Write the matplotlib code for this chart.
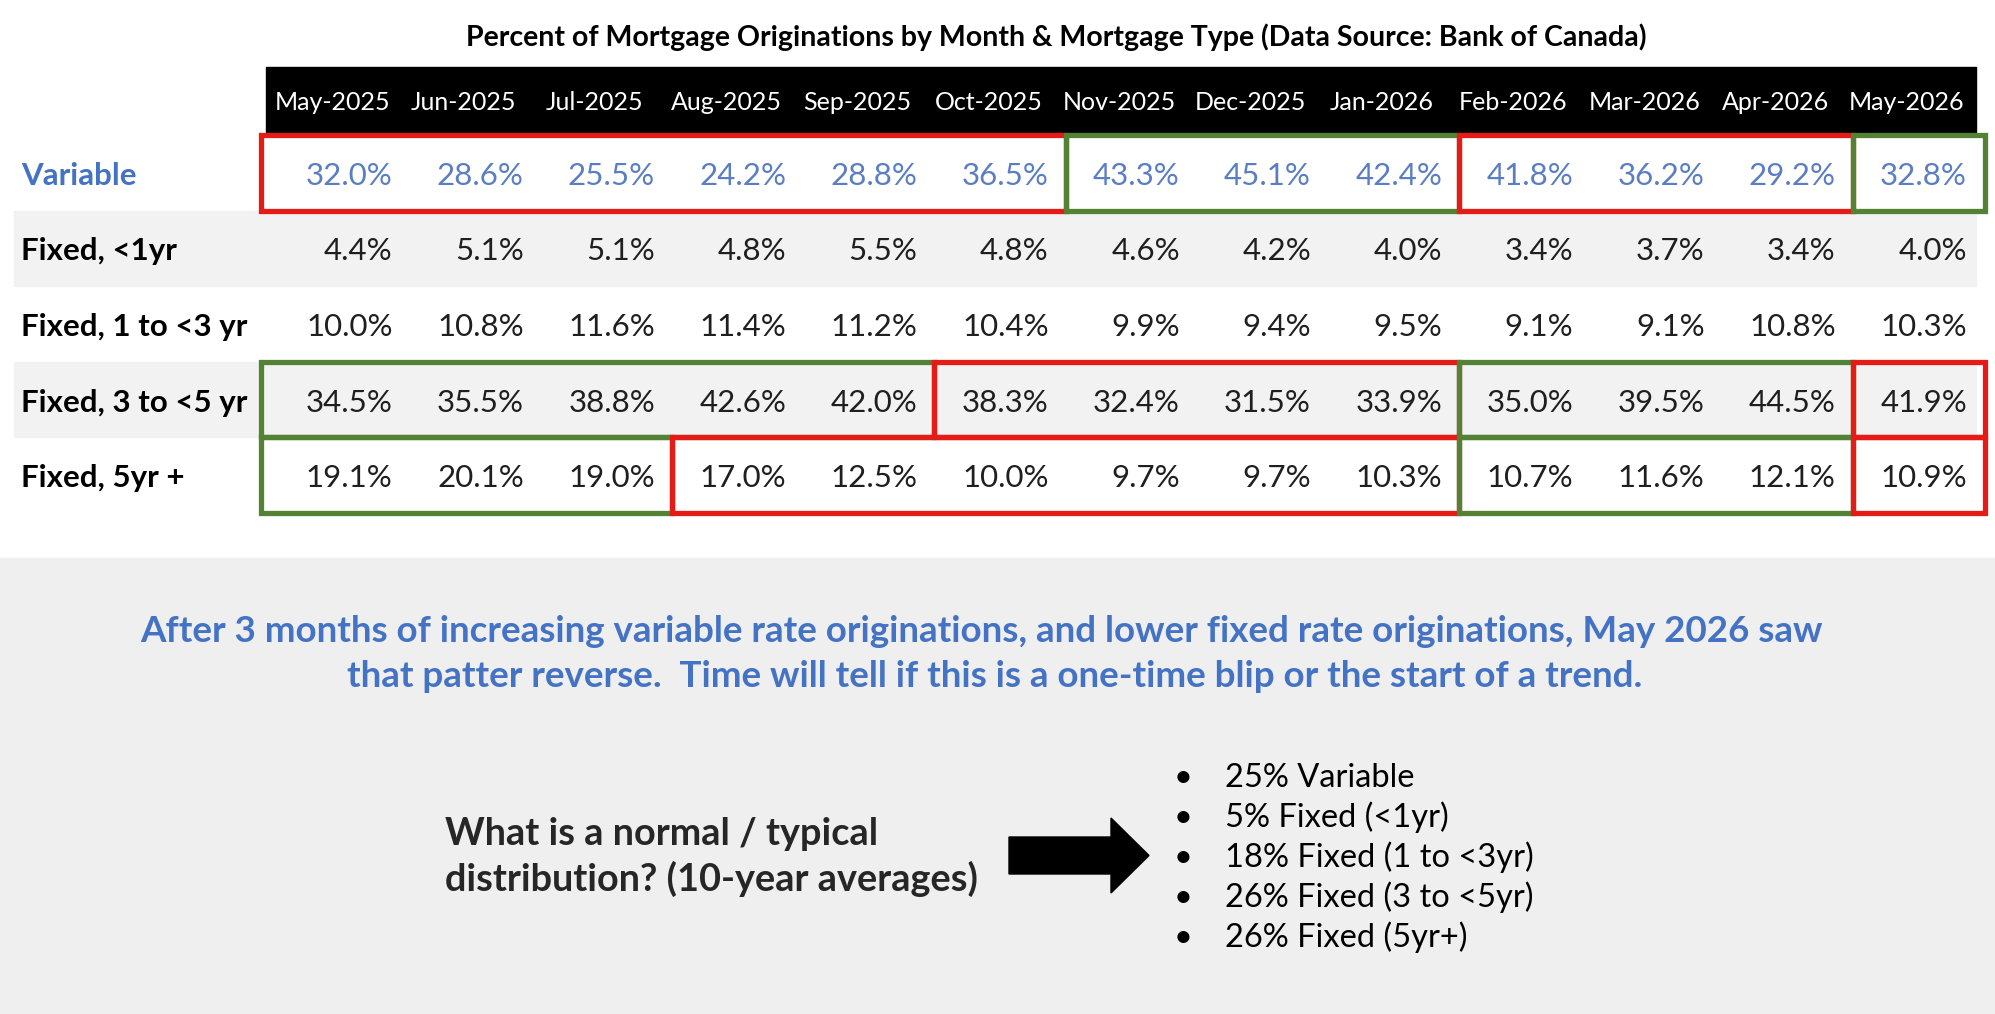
import matplotlib
matplotlib.use("Agg")
import matplotlib.pyplot as plt
from matplotlib.patches import Rectangle, Polygon

plt.rcParams['font.family'] = ['Lato', 'DejaVu Sans']

title = 'Percent of Mortgage Originations by Month & Mortgage Type (Data Source: Bank of Canada)'
months = ['May-2025', 'Jun-2025', 'Jul-2025', 'Aug-2025', 'Sep-2025', 'Oct-2025', 'Nov-2025',
          'Dec-2025', 'Jan-2026', 'Feb-2026', 'Mar-2026', 'Apr-2026', 'May-2026']
row_labels = ['Variable', 'Fixed, <1yr', 'Fixed, 1 to <3 yr', 'Fixed, 3 to <5 yr', 'Fixed, 5yr +']

variable = [32.0, 28.6, 25.5, 24.2, 28.8, 36.5, 43.3, 45.1, 42.4, 41.8, 36.2, 29.2, 32.8]
fixed_lt1 = [4.4, 5.1, 5.1, 4.8, 5.5, 4.8, 4.6, 4.2, 4.0, 3.4, 3.7, 3.4, 4.0]
fixed_1to3 = [10.0, 10.8, 11.6, 11.4, 11.2, 10.4, 9.9, 9.4, 9.5, 9.1, 9.1, 10.8, 10.3]
fixed_3to5 = [34.5, 35.5, 38.8, 42.6, 42.0, 38.3, 32.4, 31.5, 33.9, 35.0, 39.5, 44.5, 41.9]
fixed_5plus = [19.1, 20.1, 19.0, 17.0, 12.5, 10.0, 9.7, 9.7, 10.3, 10.7, 11.6, 12.1, 10.9]

# (row, first month, last month, up/down)
highlights = [
    (0, 0, 5, 'down'), (0, 6, 8, 'up'), (0, 9, 11, 'down'), (0, 12, 12, 'up'),
    (3, 0, 4, 'up'), (3, 5, 8, 'down'), (3, 9, 11, 'up'), (3, 12, 12, 'down'),
    (4, 0, 2, 'up'), (4, 3, 8, 'down'), (4, 9, 11, 'up'), (4, 12, 12, 'down'),
]

comment = ['After 3 months of increasing variable rate originations, and lower fixed rate originations, May 2026 saw',
           'that patter reverse.  Time will tell if this is a one-time blip or the start of a trend.']
question = ['What is a normal / typical', 'distribution? (10-year averages)']
averages = ['25% Variable', '5% Fixed (<1yr)', '18% Fixed (1 to <3yr)', '26% Fixed (3 to <5yr)', '26% Fixed (5yr+)']

BLUE = '#4472C4'
VAL_BLUE = '#5A7DC4'
RED = '#E41B17'
GREEN = '#548235'
ROW_GRAY = '#F2F2F2'
PANEL = '#EFEFEF'

rows = [variable, fixed_lt1, fixed_1to3, fixed_3to5, fixed_5plus]

fig = plt.figure(figsize=(19.95, 10.14), dpi=100)
ax = fig.add_axes([0, 0, 1, 1])
ax.set_xlim(0, 1995)
ax.set_ylim(1014, 0)
ax.axis('off')

# column / row geometry (pixels)
col_w = 131.2
col_left = [672 + col_w * (k - 3) for k in range(13)]
col_right = [x + col_w for x in col_left]
box_left = [261] + col_right[:-1]
head_top, head_bot = 67, 132
row_top = 135
row_h = 75.6
table_right = 1976

ax.text(1056, 46, title, ha='center', va='baseline', fontsize=20.5, fontweight='bold', color='black')

ax.add_patch(Rectangle((266, head_top), table_right - 266, head_bot - head_top, color='black', zorder=1))
for i, m in enumerate(months):
    ax.text(col_left[i] + 54, 110, m, ha='center', va='baseline', fontsize=18, color='white', zorder=2)

for r, (label, vals) in enumerate(zip(row_labels, rows)):
    y0 = row_top + r * row_h
    if r % 2 == 1:
        ax.add_patch(Rectangle((14, y0), table_right - 14, row_h, color=ROW_GRAY, zorder=0))
    base = y0 + row_h / 2 + 12
    ax.text(21, base, label, ha='left', va='baseline', fontsize=22.5, fontweight='bold',
            color=BLUE if r == 0 else 'black')
    for i, v in enumerate(vals):
        ax.text(col_right[i] - 17, base, f'{v:.1f}%', ha='right', va='baseline', fontsize=22.5,
                color=VAL_BLUE if r == 0 else '#1f1f1f')

for r, c0, c1, kind in highlights:
    y0 = row_top + r * row_h
    x0 = box_left[c0]
    x1 = col_right[c1] if c1 < 12 else col_right[c1] + 1
    ax.add_patch(Rectangle((x0, y0), x1 - x0, row_h, fill=False, lw=3.8,
                           edgecolor=RED if kind == 'down' else GREEN, zorder=5))

# lower panel
ax.add_patch(Rectangle((0, 558), 1995, 1014 - 558, color=PANEL, zorder=0))
for k, line in enumerate(comment):
    ax.text(981 + 14 * k, 642 + 45 * k, line, ha='center', va='baseline', fontsize=26.5,
            fontweight='bold', color=BLUE)
for k, line in enumerate(question):
    ax.text(445, 845 + 46 * k, line, ha='left', va='baseline', fontsize=27.3,
            fontweight='bold', color='#262626')

ax.add_patch(Polygon([(1009, 837), (1111, 837), (1111, 818), (1149, 855.5),
                      (1111, 893), (1111, 874), (1009, 874)], closed=True, color='black'))

for k, item in enumerate(averages):
    yb = 787 + 40 * k
    ax.text(1183, yb, '•', ha='center', va='baseline', fontsize=23.5, color='black')
    ax.text(1225, yb, item, ha='left', va='baseline', fontsize=23.5, color='black')

fig.savefig('out.png', dpi=100)
